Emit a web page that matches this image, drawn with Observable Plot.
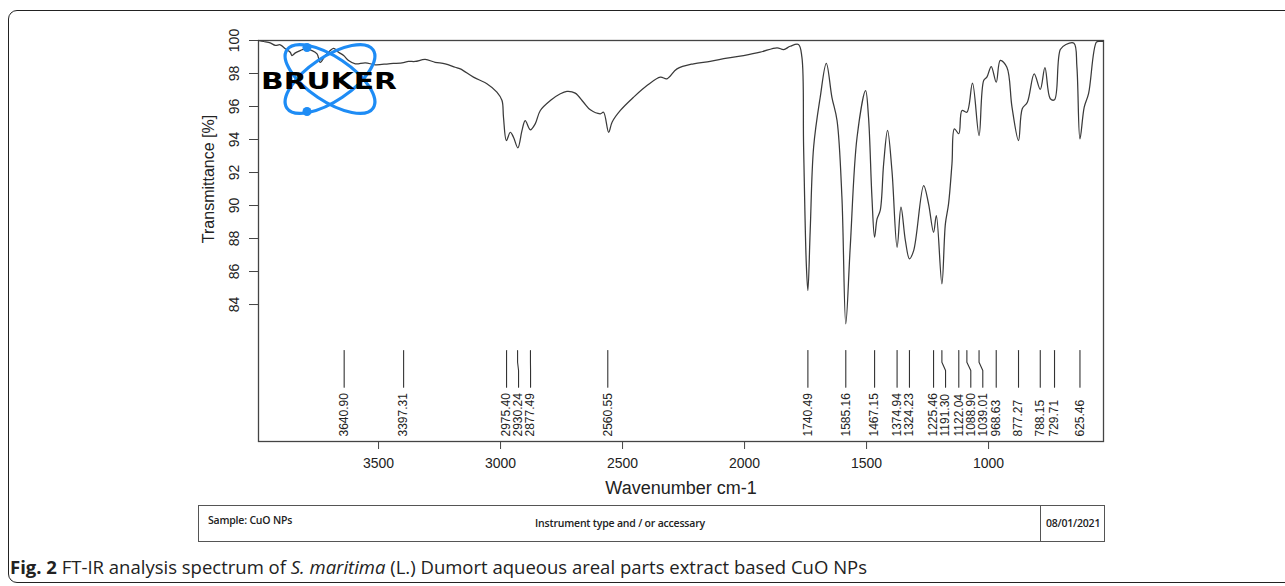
<!DOCTYPE html>
<html>
<head>
<meta charset="utf-8">
<script src="https://cdn.jsdelivr.net/npm/d3@7"></script>
<script src="https://cdn.jsdelivr.net/npm/@observablehq/plot@0.6"></script>
<style>
  html, body { margin: 0; padding: 0; background: #fff; }
  body { width: 1285px; height: 586px; position: relative; overflow: hidden; font-family: "Liberation Sans", Arial, sans-serif; }
  #border { position: absolute; left: 8px; top: 10px; width: 1300px; height: 573px; border: 1.5px solid #222; border-radius: 9px; box-sizing: border-box; }
  #chart { position: absolute; left: 0; top: 0; }
  #logo { position: absolute; left: 0; top: 0; }
  #info { position: absolute; left: 198px; top: 505px; width: 907px; height: 37px; border: 1.3px solid #555; box-sizing: border-box; font-family: "Open Sans", "Liberation Sans", sans-serif; font-weight: 600; font-size: 10.5px; color: #222; letter-spacing: -0.2px; }
  #info .sample { position: absolute; left: 9px; top: 7px; }
  #info .inst { position: absolute; left: 0; width: 842px; top: 10px; text-align: center; }
  #info .div { position: absolute; left: 841px; top: 0; bottom: 0; border-left: 1.3px solid #555; }
  #info .date { position: absolute; left: 847px; top: 10px; }
  #caption { position: absolute; left: 10px; top: 554px; font-family: "Open Sans", "Lato", sans-serif; font-size: 18.5px; color: #222; white-space: nowrap; letter-spacing: 0; }
</style>
</head>
<body>
<div id="border"></div>
<div id="chart"></div>
<svg id="logo" width="420" height="130" xmlns="http://www.w3.org/2000/svg">
  <g fill="none" stroke="#1e8cf5" stroke-width="3.2">
    <ellipse cx="330" cy="79" rx="52" ry="22" transform="rotate(34 330 79)"></ellipse>
    <ellipse cx="330" cy="79" rx="52" ry="22" transform="rotate(-34 330 79)"></ellipse>
  </g>
  <g fill="#1e8cf5">
    <circle cx="307" cy="47.5" r="4.5"></circle>
    <circle cx="307" cy="111.5" r="4.5"></circle>
  </g>
  <text x="261" y="88.5" font-family="DejaVu Sans" font-weight="bold" font-size="23" textLength="136" lengthAdjust="spacingAndGlyphs" fill="#000">BRUKER</text>
</svg>
<div id="info">
  <span class="sample">Sample: CuO NPs</span>
  <span class="inst">Instrument type and / or accessary</span>
  <span class="div"></span>
  <span class="date">08/01/2021</span>
</div>
<div id="caption"><b>Fig. 2</b> FT-IR analysis spectrum of <i>S. maritima</i> (L.) Dumort aqueous areal parts extract based CuO NPs</div>
<script>
// ---- Data ----
const wavenumber = [3992, 3971, 3944, 3923, 3903, 3882, 3862, 3855, 3841, 3821,
  3800, 3773, 3752, 3739, 3718, 3698, 3684, 3664, 3643, 3623,
  3595, 3554, 3513, 3459, 3404, 3377, 3350, 3309, 3268, 3227,
  3186, 3165, 3111, 3056, 3015, 2994, 2988, 2976, 2960, 2947,
  2929, 2912, 2899, 2878, 2858, 2837, 2796, 2755, 2728, 2694,
  2660, 2632, 2591, 2578, 2557, 2543, 2509, 2455, 2400, 2345,
  2318, 2277, 2209, 2141, 2072, 2004, 1936, 1867, 1840, 1813,
  1779, 1765, 1758, 1747, 1740.5, 1731, 1717, 1690, 1665, 1642,
  1621, 1601, 1585.2, 1567, 1539, 1504, 1492, 1478, 1467.2, 1457,
  1444, 1430, 1414, 1396, 1374.9, 1359, 1341, 1324.2, 1307, 1266,
  1246, 1225.5, 1214, 1191.3, 1177, 1164, 1150, 1140, 1122, 1109,
  1089, 1066, 1039, 1020, 1007, 989, 968.6, 952, 925, 904,
  877.3, 862, 841, 813, 788.2, 769, 747, 729.7, 706, 683,
  650, 638, 625.5, 608, 590, 558, 545, 530];
const transmittance = [100.0, 99.94, 99.86, 99.70, 99.74, 99.50, 99.29, 99.09, 99.25, 99.39,
  99.50, 99.39, 99.19, 98.68, 99.09, 99.39, 99.53, 99.29, 99.09, 98.79,
  98.59, 98.65, 98.53, 98.59, 98.65, 98.73, 98.73, 98.85, 98.68, 98.59,
  98.38, 98.28, 97.78, 97.38, 96.87, 96.36, 95.35, 93.94, 94.44, 94.14,
  93.50, 94.55, 95.15, 94.59, 94.95, 95.76, 96.36, 96.77, 96.91, 96.81,
  96.26, 95.80, 95.56, 95.65, 94.44, 95.05, 95.76, 96.56, 97.27, 97.78,
  97.68, 98.28, 98.59, 98.73, 98.93, 99.09, 99.29, 99.56, 99.45, 99.65,
  99.76, 98.99, 93.53, 86.47, 84.85, 88.48, 93.53, 96.56, 98.62, 96.56,
  95.15, 90.50, 82.83, 87.47, 94.14, 96.97, 95.35, 90.50, 88.08, 89.19,
  89.70, 92.53, 94.55, 92.12, 87.47, 89.90, 87.88, 86.77, 87.27, 91.21,
  90.10, 88.38, 89.39, 85.25, 88.89, 90.10, 92.53, 94.65, 94.35, 95.76,
  95.65, 97.41, 94.24, 97.58, 97.78, 98.42, 97.47, 98.79, 98.38, 95.96,
  93.94, 95.86, 96.26, 97.98, 97.04, 98.36, 96.47, 96.41, 99.45, 99.76,
  99.84, 98.40, 94.04, 95.96, 96.80, 99.90, 99.95, 99.95];
const peakWavenumbers = [3640.90, 3397.31, 2975.40, 2930.24, 2877.49, 2560.55,
  1740.49, 1585.16, 1467.15, 1374.94, 1324.23, 1225.46, 1191.30, 1122.04,
  1088.90, 1039.01, 968.63, 877.27, 788.15, 729.71, 625.46];
const xTicks = [3500, 3000, 2500, 2000, 1500, 1000];
const yTicks = [84, 86, 88, 90, 92, 94, 96, 98, 100];
const xDomain = [3992, 529];
const yDomain = [75.7, 100];

// ---- Layout ----
const W = 1285, H = 505;
const mL = 258, mR = 182, mT = 40, mB = 64;
const plotW = W - mL - mR, plotH = H - mT - mB;
const pxPerX = plotW / (xDomain[0] - xDomain[1]);
const pxPerY = plotH / (yDomain[1] - yDomain[0]);
const yAbove = (px) => yDomain[0] + px / pxPerY; // value at px above frame bottom

const spectrum = wavenumber.map((w, i) => ({w, t: transmittance[i]}));

// declutter peak labels (min gap in pixels, converted to wavenumber units)
const gap = 12.0 / pxPerX;
const peaks = peakWavenumbers.slice().sort((a, b) => b - a).map(w => ({w}));
peaks.forEach((p, i) => { p.lw = i === 0 ? p.w : Math.min(p.w, peaks[i - 1].lw - gap); });
const leaders = peaks.flatMap(p => [
  {id: p.w, w: p.w, t: yAbove(91)},
  {id: p.w, w: p.w, t: yAbove(79.3)},
  {id: p.w, w: p.lw, t: yAbove(71)},
  {id: p.w, w: p.lw, t: yAbove(54.3)}
]);

const chart = Plot.plot({
  width: W, height: H,
  marginLeft: mL, marginRight: mR, marginTop: mT, marginBottom: mB,
  style: {fontFamily: "Liberation Sans, Arial, sans-serif", color: "#333", background: "transparent"},
  x: {domain: xDomain, axis: null},
  y: {domain: yDomain, axis: null},
  marks: [
    Plot.frame({stroke: "#444", strokeWidth: 1.3}),
    Plot.axisX({ticks: xTicks, tickSize: 8, tickPadding: 9, fontSize: 14, tickFormat: d => String(d), stroke: "#444", fill: "#222", label: null}),
    Plot.axisY({ticks: yTicks, tickSize: 9, tickPadding: 11, tickRotate: -90, fontSize: 14, tickFormat: d => String(d), stroke: "#444", fill: "#222", label: null}),
    Plot.line(spectrum, {x: "w", y: "t", stroke: "#3a3a3a", strokeWidth: 1.25, curve: "catmull-rom"}),
    Plot.line(leaders, {x: "w", y: "t", z: "id", stroke: "#333", strokeWidth: 1.1}),
    Plot.text(peaks, {x: "lw", y: () => yAbove(5), text: d => d.w.toFixed(2), rotate: -90, textAnchor: "start", lineAnchor: "middle", fontSize: 12, fill: "#222"}),
    Plot.text(["Wavenumber cm-1"], {frameAnchor: "bottom", dy: 52, fontSize: 18, fill: "#222"}),
    Plot.text(["Transmittance [%]"], {frameAnchor: "left", dx: -50, dy: -62, rotate: -90, textAnchor: "middle", fontSize: 16, fill: "#222"})
  ]
});
document.getElementById("chart").appendChild(chart);
</script>
</body>
</html>
